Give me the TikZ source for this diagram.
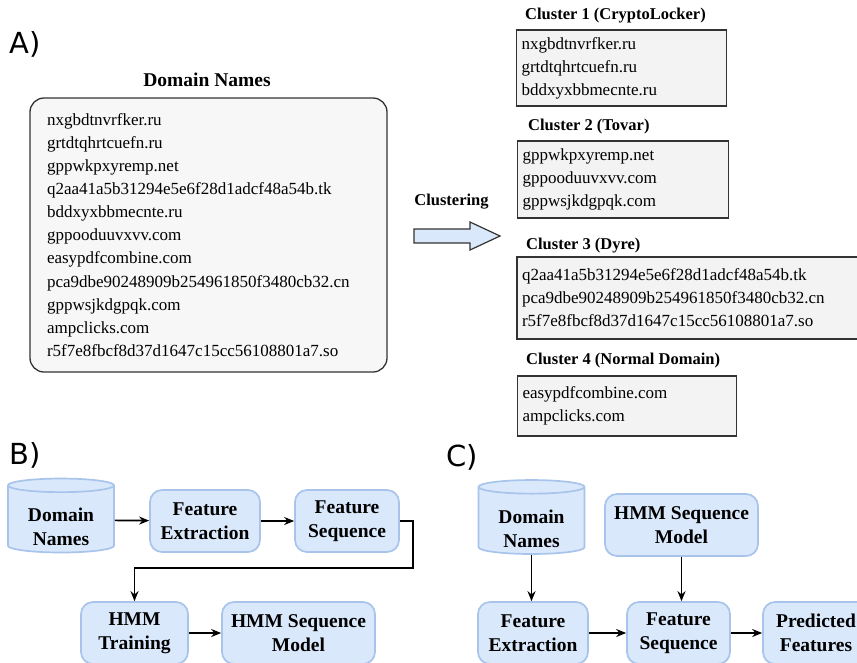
\documentclass[tikz,border=0pt]{standalone}
\usepackage{fontspec}
\setmainfont{Liberation Serif}
\newfontfamily\partfont{DejaVu Sans}
\usetikzlibrary{positioning, arrows.meta, shapes.geometric}
\definecolor{boxblue}{HTML}{DAE8FC}
\definecolor{edgeblue}{HTML}{A9C4EB}
\definecolor{listgray}{HTML}{F7F7F7}
\definecolor{clgray}{HTML}{F3F3F3}
\definecolor{darkline}{HTML}{333333}
% cylinder text sits a little below the middle
\newcommand{\dbtext}[1]{\raisebox{0pt}[27.5pt][24.5pt]{\begin{tabular}[t]{@{}c@{}}#1\end{tabular}}}

\begin{document}
\begin{tikzpicture}[
		x=1pt, y=-1pt,
		listfont/.style={font=\fontsize{17}{23.1}\selectfont},
		listbox/.style={draw=darkline, fill=listgray, line width=1.3pt, rounded corners=14pt, align=left, listfont, inner xsep=17pt},
		clusterbox/.style={draw=darkline, fill=clgray, line width=1.3pt, align=left, listfont, inner xsep=5pt},
		cltitle/.style={font=\bfseries\fontsize{16.5}{20}\selectfont, inner sep=0pt},
		proc/.style={draw=edgeblue, fill=boxblue, line width=1.7pt, rounded corners=12pt, align=center, font=\bfseries\fontsize{19.5}{24}\selectfont, minimum height=62pt, inner sep=2pt},
		db/.style={cylinder, shape border rotate=90, aspect=0.2, draw=edgeblue, fill=boxblue, line width=1.7pt, font=\bfseries\fontsize{19.5}{24}\selectfont, minimum width=106pt, minimum height=40pt, inner sep=1pt},
		flow/.style={line width=1.7pt, -{Stealth[length=10pt, width=8pt]}},
		part/.style={font=\partfont\fontsize{29}{32}\selectfont, inner sep=0pt}
		]
		\clip (0,0) rectangle (857,662);
		
		% A) clustering
		\node[part, anchor=west] (partA) at (9,44) {A)};
		\node[cltitle, font=\bfseries\fontsize{19.5}{24}\selectfont] (listtitle) at (207,80) {Domain Names};
		\node[listbox, text width=323pt, minimum height=274pt] (domains) at (208.5,235) {nxgbdtnvrfker.ru\\grtdtqhrtcuefn.ru\\gppwkpxyremp.net\\q2aa41a5b31294e5e6f28d1adcf48a54b.tk\\bddxyxbbmecnte.ru\\gppooduuvxvv.com\\easypdfcombine.com\\pca9dbe90248909b254961850f3480cb32.cn\\gppwsjkdgpqk.com\\ampclicks.com\\r5f7e8fbcf8d37d1647c15cc56108801a7.so};
		
		\node[cltitle] (cltext) at (451.5,202) {Clustering};
		\draw[darkline, fill=boxblue, line width=1.2pt] (414,229) -- (470,229) -- (470,222) -- (500,236) -- (470,250) -- (470,243) -- (414,243) -- cycle;
		
		\node[clusterbox, text width=200pt, minimum height=76pt] (cl1) at (621.5,68) {nxgbdtnvrfker.ru\\grtdtqhrtcuefn.ru\\bddxyxbbmecnte.ru};
		\node[clusterbox, text width=201pt, minimum height=77pt] (cl2) at (623,179.5) {gppwkpxyremp.net\\gppooduuvxvv.com\\gppwsjkdgpqk.com};
		\node[clusterbox, text width=345pt, minimum height=82pt] (cl3) at (694.5,298) {q2aa41a5b31294e5e6f28d1adcf48a54b.tk\\pca9dbe90248909b254961850f3480cb32.cn\\r5f7e8fbcf8d37d1647c15cc56108801a7.so};
		\node[clusterbox, text width=209pt, minimum height=60pt] (cl4) at (627,406) {easypdfcombine.com\\ampclicks.com};
		
		\node[cltitle, anchor=west] (cl1title) at (525,16) {Cluster 1 (CryptoLocker)};
		\node[cltitle, anchor=west] (cl2title) at (528,127) {Cluster 2 (Tovar)};
		\node[cltitle, anchor=west] (cl3title) at (526,246) {Cluster 3 (Dyre)};
		\node[cltitle, anchor=west] (cl4title) at (526,361) {Cluster 4 (Normal Domain)};
		
		% B) training
		\node[part, anchor=west] (partB) at (9,455) {B)};
		\node[db] (dbB) at (61,520) {\dbtext{Domain\\Names}};
		\node[proc, minimum width=110pt] (feB) at (205,521) {Feature\\Extraction};
		\node[proc, minimum width=104pt] (fsB) at (347,521) {Feature\\Sequence};
		\node[proc, minimum width=107pt] (hmmTr) at (134.5,633) {HMM\\Training};
		\node[proc, minimum width=153pt] (hmmB) at (298.5,633) {HMM Sequence\\Model};
		\coordinate (turnB) at (413,568);
		
		\draw[flow] (dbB) -- (feB);
		\draw[flow] (feB) -- (fsB);
		\draw[flow] (fsB.east) -| (turnB) -| (hmmTr.north);
		\draw[flow] (hmmTr) -- (hmmB);
		
		% C) prediction
		\node[part, anchor=west] (partC) at (446,457) {C)};
		\node[db] (dbC) at (531.5,521.5) {\dbtext{Domain\\Names}};
		\node[proc, minimum width=153pt] (hmmC) at (681.5,525) {HMM Sequence\\Model};
		\node[proc, minimum width=110pt] (feC) at (533,633) {Feature\\Extraction};
		\node[proc, minimum width=103pt] (fsC) at (678.5,633) {Feature\\Sequence};
		\node[proc, minimum width=106pt] (pfC) at (816,633) {Predicted\\Features};
		
		\draw[flow] (dbC.south) -- (dbC.south |- feC.north);
		\draw[flow] (hmmC.south) -- (hmmC.south |- fsC.north);
		\draw[flow] (feC) -- (fsC);
		\draw[flow] (fsC) -- (pfC);
		
	\end{tikzpicture}
\end{document}
